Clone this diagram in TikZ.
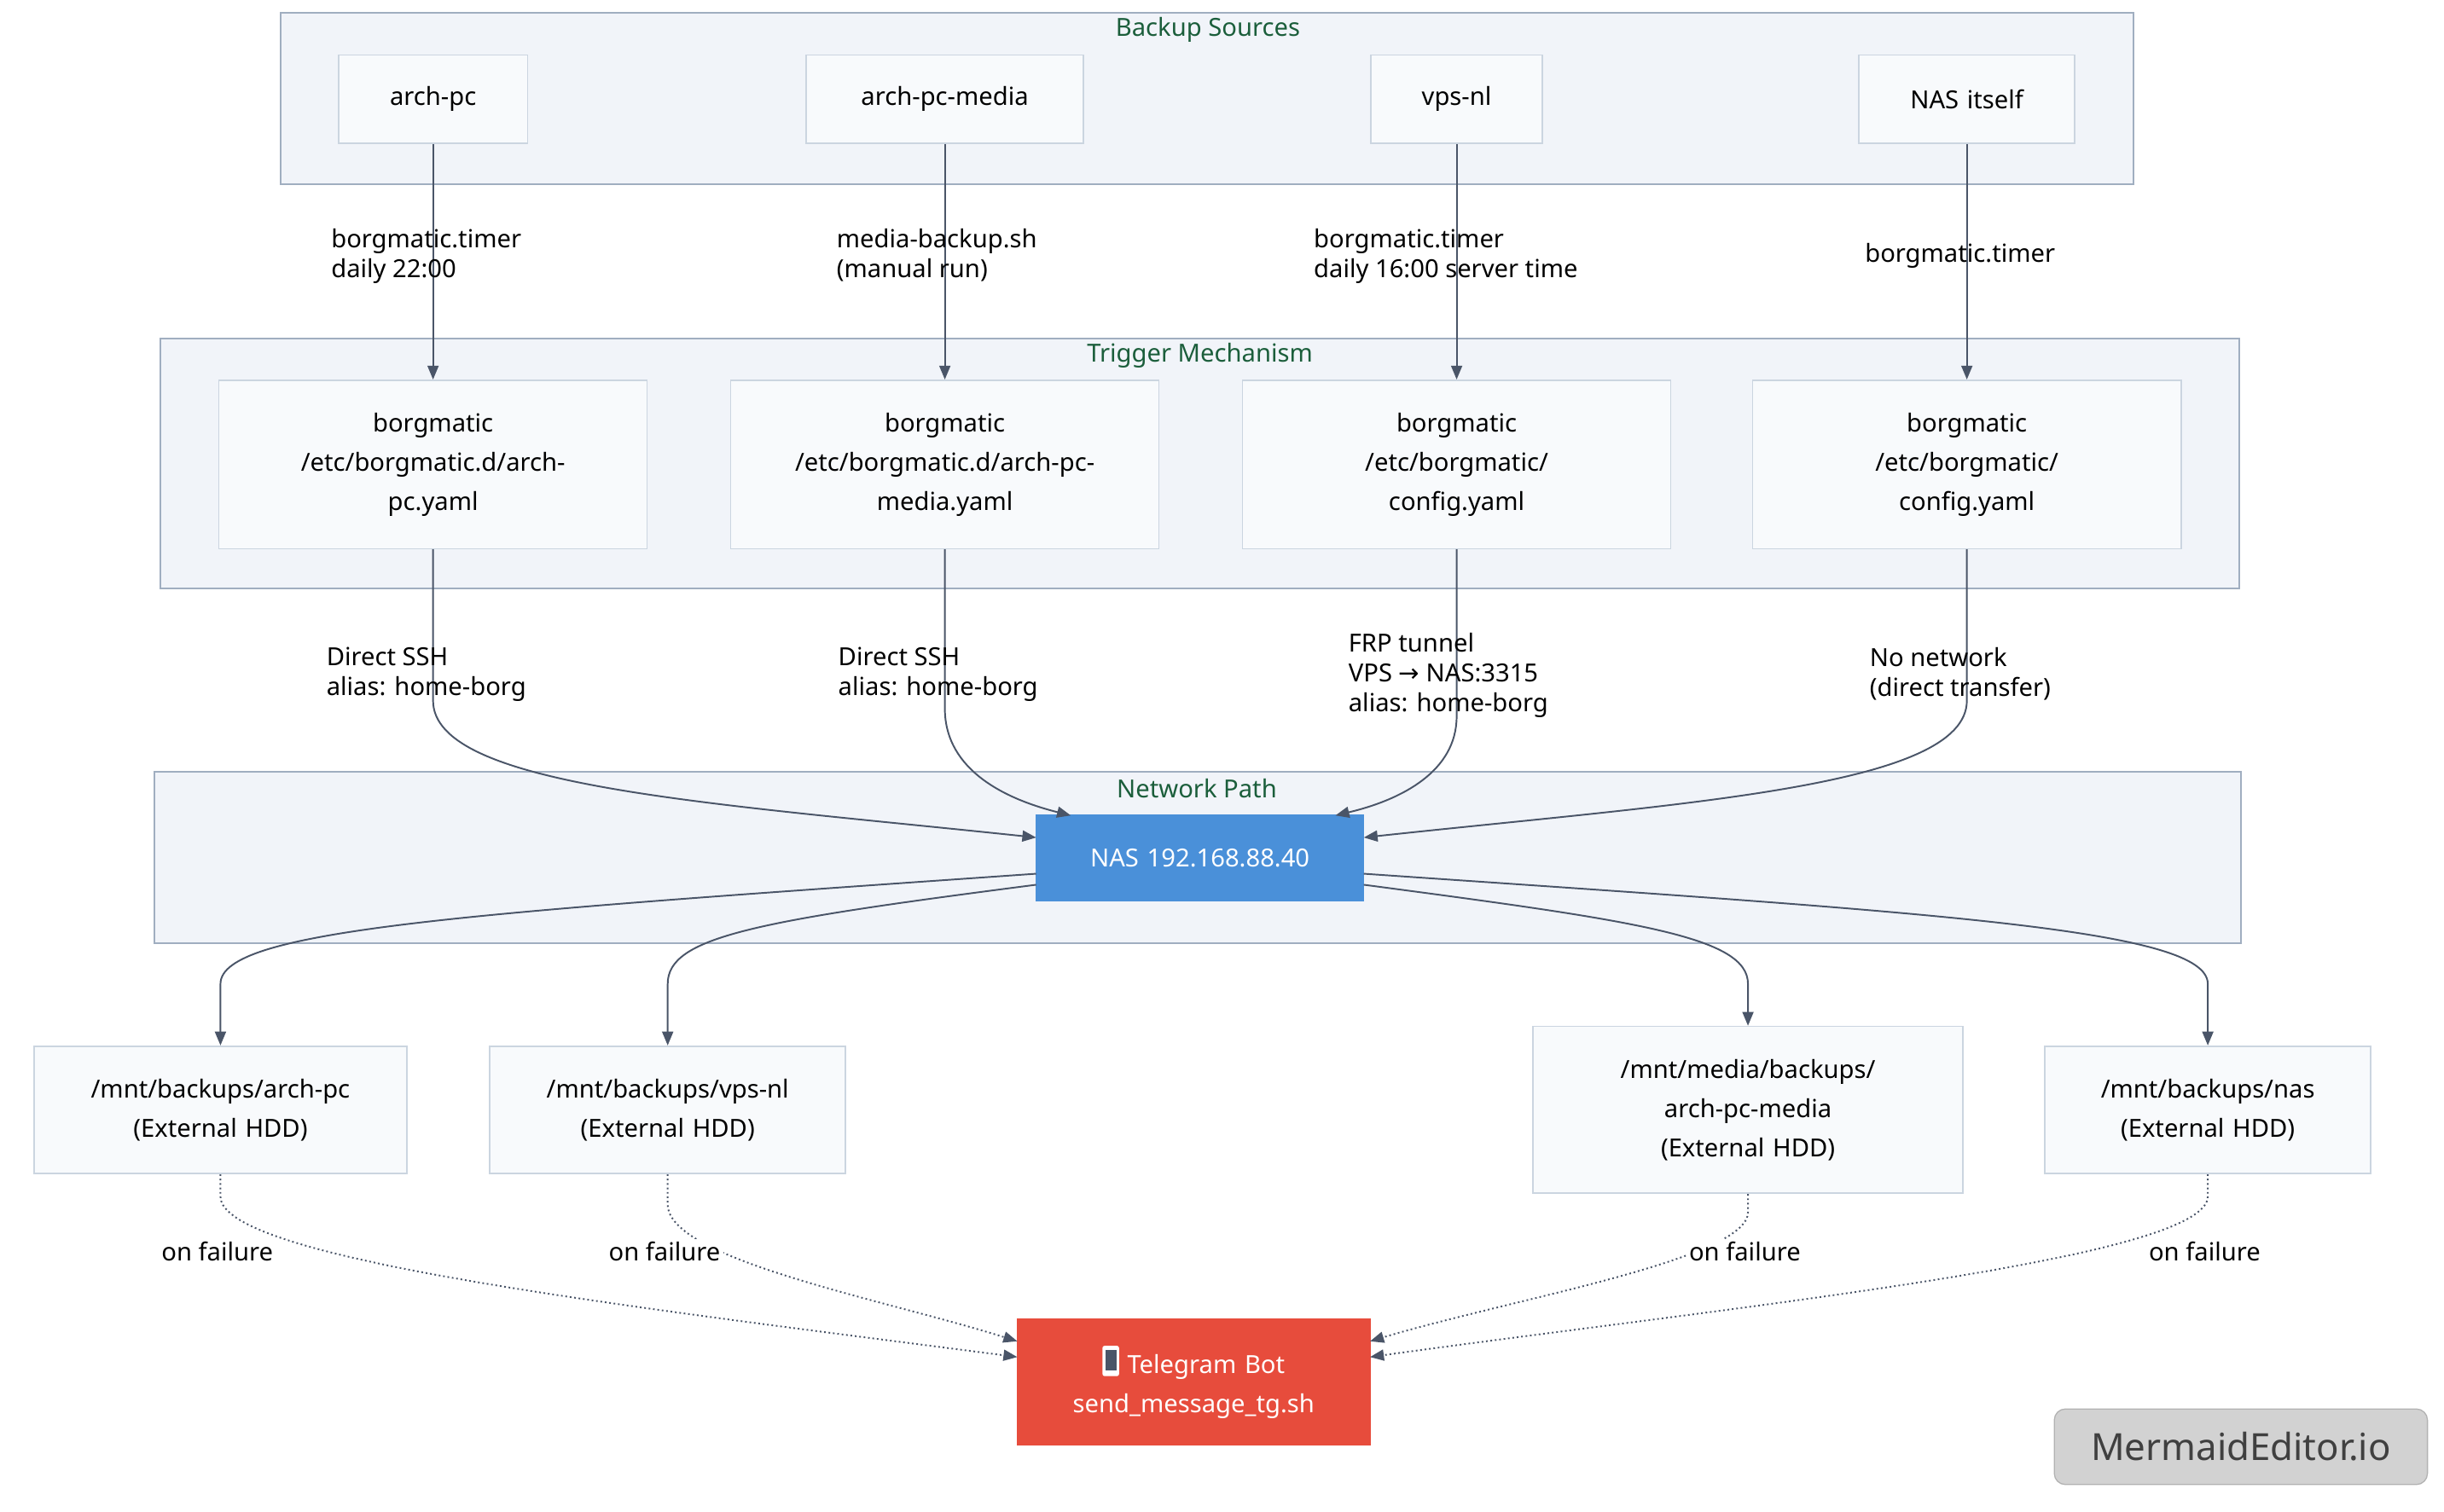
\documentclass[tikz,border=0pt]{standalone}
\usepackage{fontspec}
\setmainfont{Noto Sans}
\newfontfamily\djv{DejaVu Sans}
\usetikzlibrary{arrows.meta}
\definecolor{frm}{HTML}{F1F4F9}
\definecolor{frmd}{HTML}{A0AEC0}
\definecolor{nod}{HTML}{F8FAFC}
\definecolor{nodd}{HTML}{CBD5E0}
\definecolor{ln}{HTML}{4A5568}
\definecolor{ttl}{HTML}{1B5E3B}
\definecolor{nasb}{HTML}{4A90D9}
\definecolor{tgr}{HTML}{E74C3C}
\tikzset{
 x=0.02cm,y=-0.02cm,
 frame/.style={draw=frmd,fill=frm,line width=0.6pt},
 ftitle/.style={text=ttl,font=\fontsize{9}{11}\selectfont},
 box/.style={draw=nodd,fill=nod,line width=0.5pt,align=center,font=\fontsize{9}{14.2}\selectfont,inner sep=0pt},
 lbl/.style={align=left,anchor=north west,font=\fontsize{9}{10.8}\selectfont,inner sep=0pt},
 flbl/.style={font=\fontsize{9}{10.8}\selectfont,fill=white,inner sep=1pt},
 e/.style={draw=ln,line width=0.6pt,-{Triangle[length=5pt,width=4pt]}},
 d/.style={e,densely dotted},
}
\begin{document}
\begin{tikzpicture}
\useasboundingbox (0,0) rectangle (1552,960);
\fill[white] (0,0) rectangle (1552,960);
% frames
\draw[frame] (178,8) rectangle (1355,117);
\node[ftitle] at (767,19) {Backup Sources};
\draw[frame] (102,215) rectangle (1422,374);
\node[ftitle] at (762,226) {Trigger Mechanism};
\draw[frame] (98,490) rectangle (1423,599);
\node[ftitle] at (760,501) {Network Path};
% sources
\node[box,text width=2.4cm,minimum height=1.12cm] (s1) at (275,63) {arch-pc};
\node[box,text width=3.52cm,minimum height=1.12cm] (s2) at (600,63) {arch-pc-media};
\node[box,text width=2.18cm,minimum height=1.12cm] (s3) at (925,63) {vps-nl};
\node[box,text width=2.74cm,minimum height=1.12cm] (s4) at (1249,63) {NAS itself};
% triggers
\node[box,text width=5.44cm,minimum height=2.14cm] (t1) at (275,295) {borgmatic\\/etc/borgmatic.d/arch-\\pc.yaml};
\node[box,text width=5.44cm,minimum height=2.14cm] (t2) at (600,295) {borgmatic\\/etc/borgmatic.d/arch-pc-\\media.yaml};
\node[box,text width=5.44cm,minimum height=2.14cm] (t3) at (925,295) {borgmatic\\/etc/borgmatic/\\config.yaml};
\node[box,text width=5.44cm,minimum height=2.14cm] (t4) at (1249,295) {borgmatic\\/etc/borgmatic/\\config.yaml};
% NAS
\node[box,draw=nasb,fill=nasb,text=white,text width=4.16cm,minimum height=1.08cm] (nas) at (762,545) {NAS 192.168.88.40};
% dests
\node[box,text width=4.74cm,minimum height=1.62cm] (d1) at (140,705) {/mnt/backups/arch-pc\\(External HDD)};
\node[box,text width=4.52cm,minimum height=1.62cm] (d2) at (424,705) {/mnt/backups/vps-nl\\(External HDD)};
\node[box,text width=5.46cm,minimum height=2.12cm] (d3) at (1110,705) {/mnt/media/backups/\\arch-pc-media\\(External HDD)};
\node[box,text width=4.14cm,minimum height=1.62cm] (d4) at (1402,705) {/mnt/backups/nas\\(External HDD)};
% telegram
\node[box,draw=tgr,fill=tgr,text=white,text width=4.48cm,minimum height=1.6cm] (tg) at (758,878) {\tikz[x=1pt,y=1pt,baseline=-1pt]{\fill[white,rounded corners=0.8pt](0,-2)rectangle(6,9);\fill[ln](1,0)rectangle(5,7.5);} Telegram Bot\\send\_message\_tg.sh};
% badge
\node[draw=gray!60,fill=gray!35,rounded corners=4pt,minimum width=4.74cm,minimum height=0.96cm,font=\fontsize{13.5}{16}\selectfont,text=black!75] (badge) at (1423,919) {MermaidEditor.io};
% source -> trigger
\draw[e] (s1) -- (t1);
\draw[e] (s2) -- (t2);
\draw[e] (s3) -- (t3);
\draw[e] (s4) -- (t4);
\node[lbl] (l1) at (210,145) {borgmatic.timer\\daily 22:00};
\node[lbl] (l2) at (531,145) {media-backup.sh\\(manual run)};
\node[lbl] (l3) at (834,145) {borgmatic.timer\\daily 16:00 server time};
\node[lbl] (l4) at (1184,154) {borgmatic.timer};
% trigger -> nas
\coordinate (n1) at (658,532); \coordinate (n2) at (680,518);
\coordinate (n3) at (848,518); \coordinate (n4) at (866,532);
\draw[e] (t1.south) -- (275,445) .. controls (275,500) and (450,510) .. (n1);
\draw[e] (t2.south) -- (600,450) .. controls (600,490) and (640,508) .. (n2);
\draw[e] (t3.south) -- (925,455) .. controls (925,490) and (890,508) .. (n3);
\draw[e] (t4.south) -- (1249,445) .. controls (1249,500) and (1070,510) .. (n4);
\node[lbl] at (207,411) {Direct SSH\\alias: home-borg};
\node[lbl] at (532,411) {Direct SSH\\alias: home-borg};
\node[lbl] at (856,402) {FRP tunnel\\VPS {\djv →} NAS:3315\\alias: home-borg};
\node[lbl] at (1187,411) {No network\\(direct transfer)};
% nas -> dests
\coordinate (m1) at (658,555); \coordinate (m2) at (658,562);
\coordinate (m3) at (866,562); \coordinate (m4) at (866,555);
\draw[e] (m1) .. controls (300,580) and (140,590) .. (140,625) -- (d1.north);
\draw[e] (m2) .. controls (480,585) and (424,595) .. (424,625) -- (d2.north);
\draw[e] (m3) .. controls (1040,585) and (1110,595) .. (1110,625) -- (d3.north);
\draw[e] (m4) .. controls (1230,580) and (1402,590) .. (1402,625) -- (d4.north);
% dests -> telegram
\coordinate (g1) at (646,862); \coordinate (g2) at (646,852);
\coordinate (g3) at (870,852); \coordinate (g4) at (870,862);
\draw[d] (d1.south) -- (140,760) .. controls (140,800) and (400,830) .. (g1);
\draw[d] (d2.south) -- (424,765) .. controls (424,800) and (560,825) .. (g2);
\draw[d] (d3.south) -- (1110,770) .. controls (1110,800) and (960,825) .. (g3);
\draw[d] (d4.south) -- (1402,760) .. controls (1402,800) and (1100,830) .. (g4);
\node[flbl] at (138,795) {on failure};
\node[flbl] at (422,795) {on failure};
\node[flbl] at (1108,795) {on failure};
\node[flbl] at (1400,795) {on failure};
\end{tikzpicture}
\end{document}
